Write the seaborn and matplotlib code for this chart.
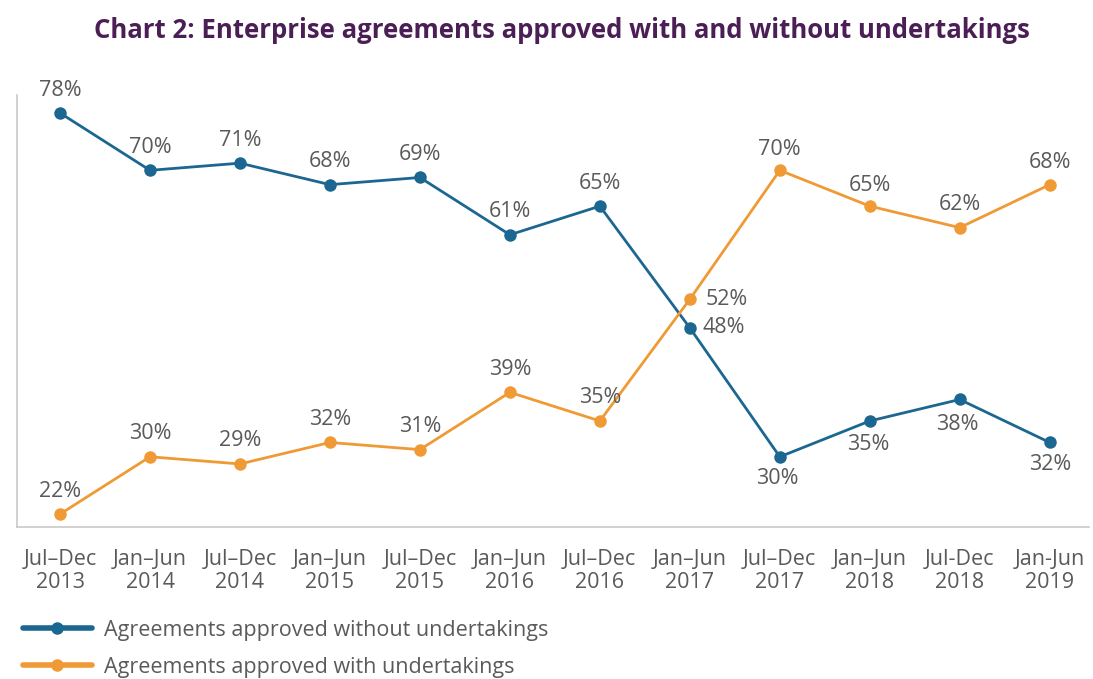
import matplotlib
matplotlib.use("Agg")
import matplotlib.pyplot as plt
import pandas as pd
import seaborn as sns
from matplotlib.lines import Line2D

sns.set_theme(style="white")
plt.rcParams["font.family"] = ["Open Sans", "DejaVu Sans"]

periods = [
    "Jul–Dec\n2013", "Jan–Jun\n2014", "Jul–Dec\n2014", "Jan–Jun\n2015",
    "Jul–Dec\n2015", "Jan–Jun\n2016", "Jul–Dec\n2016", "Jan–Jun\n2017",
    "Jul–Dec\n2017", "Jan–Jun\n2018", "Jul-Dec\n2018", "Jan-Jun\n2019",
]
without_undertakings = [78, 70, 71, 68, 69, 61, 65, 48, 30, 35, 38, 32]
with_undertakings = [22, 30, 29, 32, 31, 39, 35, 52, 70, 65, 62, 68]
series_names = [
    "Agreements approved without undertakings",
    "Agreements approved with undertakings",
]

BLUE = "#1c6791"
ORANGE = "#f09a35"
TEXT = "#5a5a5a"
AXIS = "#c9c9c9"

df = pd.DataFrame({
    "x": list(range(len(periods))) * 2,
    "value": without_undertakings + with_undertakings,
    "series": [series_names[0]] * len(periods) + [series_names[1]] * len(periods),
})

fig = plt.figure(figsize=(10.93, 6.79), dpi=100)
ax = fig.add_axes([0.0156, 0.2239, 0.981, 0.636])

sns.lineplot(
    data=df, x="x", y="value", hue="series",
    palette={series_names[0]: BLUE, series_names[1]: ORANGE},
    marker="o", markersize=9, markeredgewidth=0, linewidth=2.0,
    legend=False, ax=ax,
)

ax.set_xlim(-0.478, 11.44)
ax.set_ylim(20.2, 80.5)

# label offsets in pixels (dx, dy) per point
blue_off = [(0, 23)] * 7 + [(34, 0), (-2, -22), (-2, -24), (-2, -25), (0, -22)]
orange_off = [(0, 23)] * 7 + [(37, 0), (0, 21), (0, 21), (0, 23), (0, 22)]

for vals, offs in [(without_undertakings, blue_off), (with_undertakings, orange_off)]:
    for i, (v, (dx, dy)) in enumerate(zip(vals, offs)):
        ax.annotate(f"{v}%", (i, v), xytext=(dx, dy), textcoords="offset pixels",
                    ha="center", va="center", fontsize=15.5, color=TEXT)

ax.set_xticks(range(len(periods)))
ax.set_xticklabels(periods, fontsize=15.5, color=TEXT, linespacing=1.1)
ax.tick_params(axis="x", which="major", length=0, pad=16)
ax.set_xticks([i + 0.5 for i in range(len(periods) - 1)], minor=True)
ax.tick_params(axis="x", which="minor", direction="in", length=8, color=AXIS, width=1)
ax.set_yticks([])
ax.set_xlabel("")
ax.set_ylabel("")

for side in ["top", "right"]:
    ax.spines[side].set_visible(False)
for side in ["left", "bottom"]:
    ax.spines[side].set_color(AXIS)
    ax.spines[side].set_linewidth(1.2)

handles = [
    Line2D([], [], color=BLUE, lw=4, marker="o", markersize=8),
    Line2D([], [], color=ORANGE, lw=4, marker="o", markersize=8),
]
fig.legend(handles, series_names, loc="upper left", bbox_to_anchor=(0.013, 0.1),
           frameon=False, fontsize=15.5, labelcolor=TEXT, handlelength=3.2,
           handletextpad=0.55, labelspacing=0.75, borderaxespad=0)

fig.text(0.514, 0.955, "Chart 2: Enterprise agreements approved with and without undertakings",
         ha="center", va="center", fontsize=18.5, fontweight="bold", color="#4b1f55")

fig.savefig("out.png", dpi=100)
